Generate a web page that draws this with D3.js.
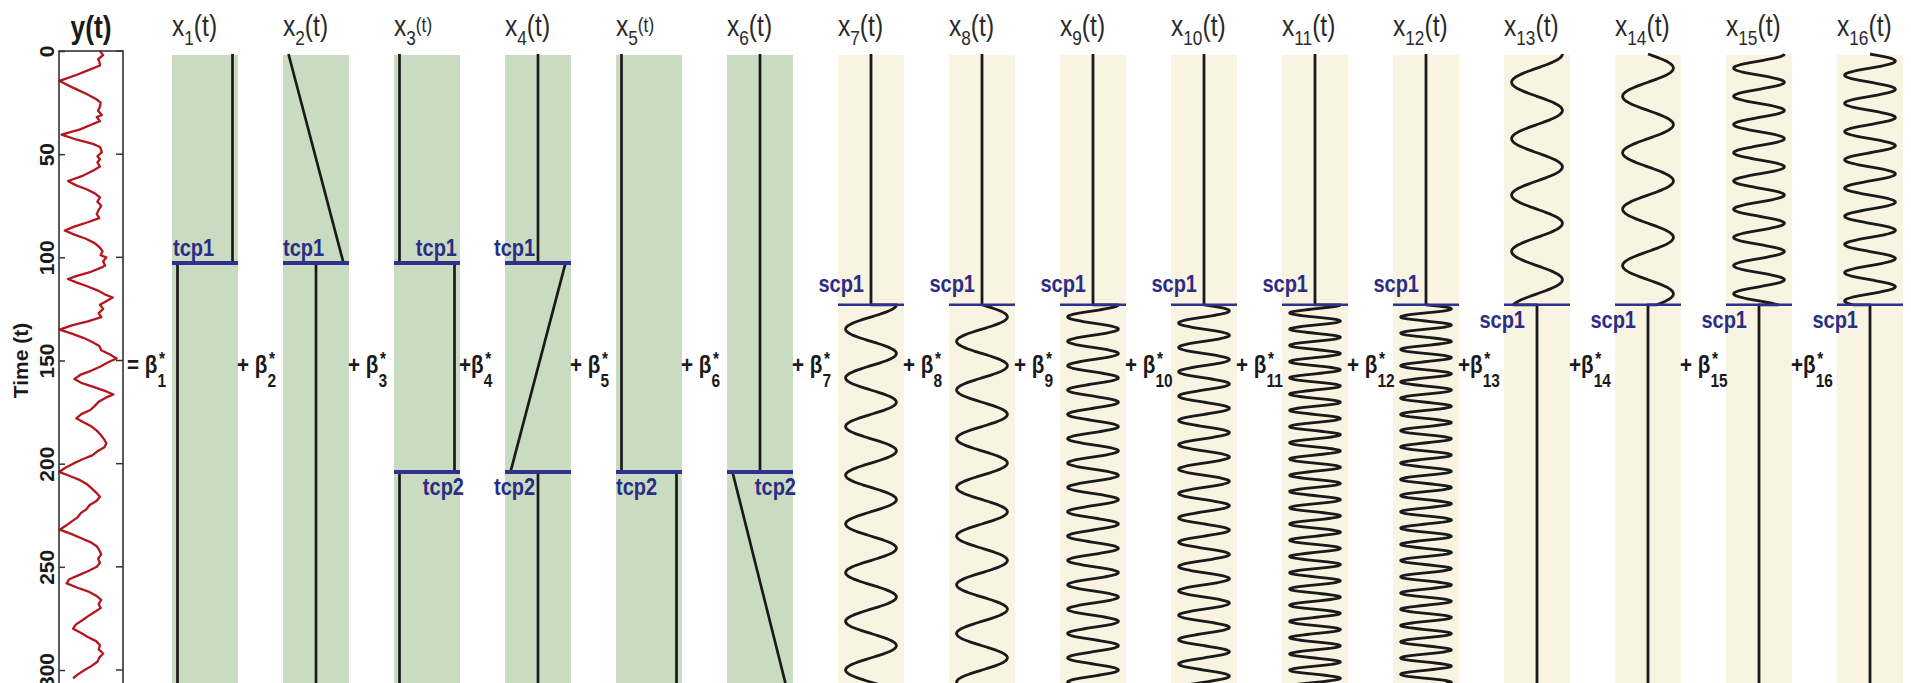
<!DOCTYPE html>
<html>
<head>
<meta charset="utf-8">
<script src="https://cdn.jsdelivr.net/npm/d3@7"></script>
<style>
  body { margin: 0; background: #fff; }
  text { font-family: "Liberation Sans", Arial, sans-serif; }
</style>
</head>
<body>
<svg id="chart" width="1911" height="683"></svg>
<script>
// ---- data ----

// y(t), the red trace (box spans 0..10)
const yTime = [0, 2, 4, 5, 7, 9, 11.5, 14.5, 17.5, 21,
  23.5, 25, 27, 29, 31, 32, 34, 35.5, 38, 40.5,
  43, 45, 46.5, 49, 51, 52.5, 54, 56, 58, 60.5,
  63, 65, 67, 69, 71, 73, 75, 77, 79, 81,
  83, 85, 87, 89, 91, 93, 95, 97, 99, 100,
  102, 104, 105, 107, 109, 110.5, 112, 114, 116, 118,
  119.5, 121, 123, 125, 127, 129, 131, 133, 135, 137,
  139, 141, 143, 145, 147, 149, 151, 153, 155, 157,
  159, 161, 163, 165, 166.5, 168, 170, 172, 174, 176,
  178, 180, 182, 184, 186, 188, 190, 192, 194, 196,
  198, 200, 202, 204, 206, 208, 210, 212, 214, 216,
  218, 220, 222, 224, 226, 228, 230, 232, 234, 236,
  238, 240, 242, 244, 246, 248, 250, 252, 254, 256,
  258, 260, 262, 264, 266, 268, 270, 272, 274, 276,
  278, 280, 282, 284, 286, 288, 290, 292, 294, 296,
  298, 300, 302, 304];
const yValue = [6.4, 6.9, 6.1, 6.3, 6.4, 4.8, 2.8, 0.1, 2.0, 4.4,
  5.9, 6.5, 6.4, 6.1, 6.7, 5.9, 6.4, 5.2, 3.3, 0.4,
  2.8, 5.3, 6.4, 6.7, 6.0, 6.4, 6.0, 6.4, 5.3, 3.7,
  1.4, 2.6, 4.3, 5.6, 6.4, 6.0, 6.6, 6.2, 5.9, 6.3,
  4.5, 2.5, 0.9, 2.4, 4.2, 5.5, 6.3, 6.8, 6.5, 7.4,
  6.9, 7.2, 6.6, 5.0, 2.8, 1.4, 2.6, 4.4, 6.0, 7.2,
  8.4, 7.5, 6.4, 6.9, 6.2, 6.6, 4.5, 2.0, 0.1, 2.0,
  3.8, 5.2, 6.3, 6.6, 7.9, 9.0, 7.6, 6.4, 5.0, 3.3,
  2.4, 3.6, 5.6, 7.4, 8.5, 7.3, 6.2, 5.6, 4.9, 3.5,
  2.7, 3.9, 5.1, 5.9, 6.5, 7.0, 7.4, 7.1, 6.0, 5.2,
  3.6, 2.2, 1.0, 0.0, 1.7, 3.3, 4.4, 5.1, 5.8, 6.4,
  5.9, 4.8, 4.3, 3.4, 2.9, 2.0, 1.1, 0.1, 1.9, 3.4,
  4.9, 5.9, 6.3, 6.6, 6.1, 6.4, 5.9, 4.6, 3.1, 1.6,
  1.2, 2.8, 4.6, 5.8, 6.6, 6.2, 6.5, 5.5, 4.5, 3.6,
  2.6, 2.2, 3.4, 4.5, 5.8, 6.4, 6.2, 6.9, 6.3, 6.0,
  5.1, 4.0, 3.0, 2.2];

const yTicks = [0, 50, 100, 150, 200, 250, 300];

// changepoints
const tcpTimes = [100, 200];          // tcp1, tcp2
const tcpNames = ['tcp1', 'tcp2'];
const tcpPanels = [[1, 2, 3, 4], [3, 4, 5, 6]];
const scpTime = 120;

// trend basis x1..x6 as breakpoints (time, value)
const trendT = [
  [0, 100, 100, 305],
  [0, 100, 100, 305],
  [0, 100, 100, 200, 200, 305],
  [0, 100, 100, 200, 200, 305],
  [0, 200, 200, 305],
  [0, 200, 200, 305]
];
const trendV = [
  [1, 1, 0, 0],
  [0, 1, 0.5, 0.5],
  [0, 0, 1, 1, 0, 0],
  [0.5, 0.5, 1, 0, 0.5, 0.5],
  [0, 0, 1, 1],
  [0.5, 0.5, 0, 1]
];

// seasonal basis x7..x16: sin / cos, period and phase origin in time units,
// and the part of the record each one covers
const sineType = ['cos', 'sin', 'cos', 'sin', 'cos', 'sin', 'cos', 'sin', 'cos', 'sin'];
const sinePeriod = [23.3, 23.3, 11.65, 11.65, 7.77, 7.77, 27, 27, 13.5, 13.5];
const sineOrigin = [120, 120, 120, 120, 120, 120, 0, 0, 0, 0];
const sineSide = ['after', 'after', 'after', 'after', 'after', 'after',
  'before', 'before', 'before', 'before'];

// coefficient labels in front of each column
const betaPrefix = ['= β', '+ β', '+ β', '+β', '+ β', '+ β', '+ β', '+ β',
  '+ β', '+ β', '+  β', '+ β', '+β', '+β', '+ β', '+β'];

// ---- layout ----
const svg = d3.select('#chart');
const panelW = 66;
const green = '#c9dbc0', cream = '#f9f3e1';
const navy = '#2e3192', navyText = '#2b2d84', ink = '#1a1a1a';

const colLeft = d3.scaleLinear().domain([1, 16]).range([172, 1837]);
const tScale = d3.scaleLinear().domain([0, 300]).range([54, 681]);
const tScaleY = d3.scaleLinear().domain([0, 300]).range([51, 670]);
const trendX = d3.scaleLinear().domain([-0.1, 1.1]).range([0, panelW]);
const sineX = d3.scaleLinear().domain([-1.3, 1.3]).range([0, panelW]);
const yValX = d3.scaleLinear().domain([0, 10]).range([59, 123]);

// helper: condensed text
function ctext(parent, x, y, sx, str) {
  return parent.append('text')
    .attr('transform', `translate(${x},${y}) scale(${sx},1)`)
    .text(str);
}

// ---- y(t) panel ----
const yLine = d3.line()
  .x(d => yValX(d[1]))
  .y(d => tScaleY(d[0]));

svg.append('path')
  .datum(yTime.map((t, i) => [t, yValue[i]]))
  .attr('d', yLine)
  .attr('fill', 'none')
  .attr('stroke', '#b5161e')
  .attr('stroke-width', 2.3)
  .attr('stroke-linejoin', 'round');

svg.append('rect')
  .attr('x', 59).attr('y', 51)
  .attr('width', 64).attr('height', 660)
  .attr('fill', 'none')
  .attr('stroke', '#333')
  .attr('stroke-width', 1.6);

// left axis, labels rotated, ticks inward
const gAxis = svg.append('g')
  .attr('transform', 'translate(59,0)')
  .call(d3.axisLeft(tScaleY).tickValues(yTicks).tickSizeInner(-6).tickSizeOuter(0));
gAxis.select('.domain').remove();
gAxis.selectAll('line').attr('stroke', '#333').attr('stroke-width', 1.5);
gAxis.selectAll('text')
  .attr('x', 0).attr('dy', 0)
  .attr('text-anchor', 'middle')
  .attr('transform', 'translate(-5,0) rotate(-90)')
  .attr('fill', ink)
  .style('font-size', '21px')
  .style('font-weight', 'bold')
  .style('font-family', '"Liberation Sans", Arial, sans-serif');

// inward ticks on the right edge
svg.append('g').selectAll('line')
  .data(yTicks)
  .enter()
  .append('line')
  .attr('x1', 123).attr('x2', 116)
  .attr('y1', d => tScaleY(d)).attr('y2', d => tScaleY(d))
  .attr('stroke', '#333').attr('stroke-width', 1.5);

svg.append('text')
  .attr('transform', `translate(28,${tScaleY(150)}) rotate(-90)`)
  .attr('text-anchor', 'middle')
  .attr('fill', ink)
  .style('font-size', '21px')
  .style('font-weight', 'bold')
  .text('Time (t)');

ctext(svg, 91, 38, 0.85, 'y(t)')
  .attr('text-anchor', 'middle')
  .attr('fill', ink)
  .style('font-size', '31px')
  .style('font-weight', 'bold');

// ---- basis panels ----
for (let k = 1; k <= 16; k++) {
  svg.append('rect')
    .attr('x', colLeft(k)).attr('y', 55)
    .attr('width', panelW).attr('height', 640)
    .attr('fill', k <= 6 ? green : cream);
}

const trendLine = d3.line()
  .x(d => trendX(d[1]))
  .y(d => tScale(d[0]));

trendT.forEach((ts, i) => {
  svg.append('g')
    .attr('transform', `translate(${colLeft(i + 1)},0)`)
    .append('path')
    .datum(ts.map((t, j) => [t, trendV[i][j]]))
    .attr('d', trendLine)
    .attr('fill', 'none')
    .attr('stroke', ink)
    .attr('stroke-width', 2.7);
});

const sineLine = d3.line()
  .x(d => sineX(d[1]))
  .y(d => tScale(d[0]));

sinePeriod.forEach((p, i) => {
  const o = sineOrigin[i];
  const f = t => sineType[i] === 'cos'
    ? Math.cos(2 * Math.PI * (t - o) / p)
    : Math.sin(2 * Math.PI * (t - o) / p);
  const before = d3.range(0, scpTime, 0.25).concat([scpTime]);
  const after = [scpTime].concat(d3.range(scpTime + 0.25, 305.01, 0.25));
  let pts;
  if (sineSide[i] === 'after') {
    pts = before.map(t => [t, 0]).concat(after.map(t => [t, f(t)]));
  } else {
    pts = before.map(t => [t, f(t)]).concat(after.map(t => [t, 0]));
  }
  svg.append('g')
    .attr('transform', `translate(${colLeft(i + 7)},0)`)
    .append('path')
    .datum(pts)
    .attr('d', sineLine)
    .attr('fill', 'none')
    .attr('stroke', ink)
    .attr('stroke-width', 2.8)
    .attr('stroke-linejoin', 'round');
});

// ---- changepoint lines and labels ----
// label placement per panel: [anchor, x offset from panel left or right]
const tcpLabelPos = [
  { 1: ['start', 1], 2: ['start', 0], 3: ['end', -3], 4: ['start', -11] },
  { 3: ['end', 4], 4: ['start', -11], 5: ['start', 0], 6: ['end', 3] }
];
const tcpBaseline = [256, 495];

tcpTimes.forEach((t, c) => {
  tcpPanels[c].forEach(k => {
    svg.append('line')
      .attr('x1', colLeft(k)).attr('x2', colLeft(k) + panelW)
      .attr('y1', tScale(t)).attr('y2', tScale(t))
      .attr('stroke', navy).attr('stroke-width', 4);
    const pos = tcpLabelPos[c][k];
    const x = pos[0] === 'start' ? colLeft(k) + pos[1] : colLeft(k) + panelW + pos[1];
    ctext(svg, x, tcpBaseline[c], 0.87, tcpNames[c])
      .attr('text-anchor', pos[0])
      .attr('fill', navyText)
      .style('font-size', '23px')
      .style('font-weight', 'bold');
  });
});

for (let k = 7; k <= 16; k++) {
  svg.append('line')
    .attr('x1', colLeft(k)).attr('x2', colLeft(k) + panelW)
    .attr('y1', tScale(scpTime)).attr('y2', tScale(scpTime))
    .attr('stroke', navy).attr('stroke-width', 2.6);
  const above = k <= 12;
  const cx = colLeft(k) + panelW / 2;
  ctext(svg, above ? cx - 7 : cx - 12, above ? 292 : 328, 0.87, 'scp1')
    .attr('text-anchor', 'end')
    .attr('fill', navyText)
    .style('font-size', '23px')
    .style('font-weight', 'bold');
}

// ---- column titles ----
const smallT = [3, 5];
for (let k = 1; k <= 16; k++) {
  const t = ctext(svg, colLeft(k), 36, 0.82, '')
    .attr('fill', '#2a2a2a')
    .style('font-size', '30px');
  t.append('tspan').text('x');
  t.append('tspan').text(k).style('font-size', '21px').attr('dy', 9);
  if (smallT.includes(k)) {
    t.append('tspan').text('(t)').style('font-size', '21px').attr('dy', -13);
  } else {
    t.append('tspan').text('(t)').attr('dy', -9);
  }
}

// ---- coefficient labels ----
for (let k = 1; k <= 16; k++) {
  const x0 = k === 1 ? 127 : colLeft(k - 1) + panelW - 1;
  const g = svg.append('g')
    .attr('transform', `translate(${x0},373) scale(0.86,1)`)
    .attr('fill', ink)
    .style('font-weight', 'bold');
  const main = g.append('text')
    .style('font-size', '24px')
    .text(betaPrefix[k - 1]);
  const L = main.node().getComputedTextLength();
  g.append('text')
    .attr('x', L).attr('y', 14)
    .style('font-size', '18px')
    .text(k);
  g.append('text')
    .attr('x', L + 2).attr('y', -8)
    .style('font-size', '18px')
    .text('*');
}
</script>
</body>
</html>
